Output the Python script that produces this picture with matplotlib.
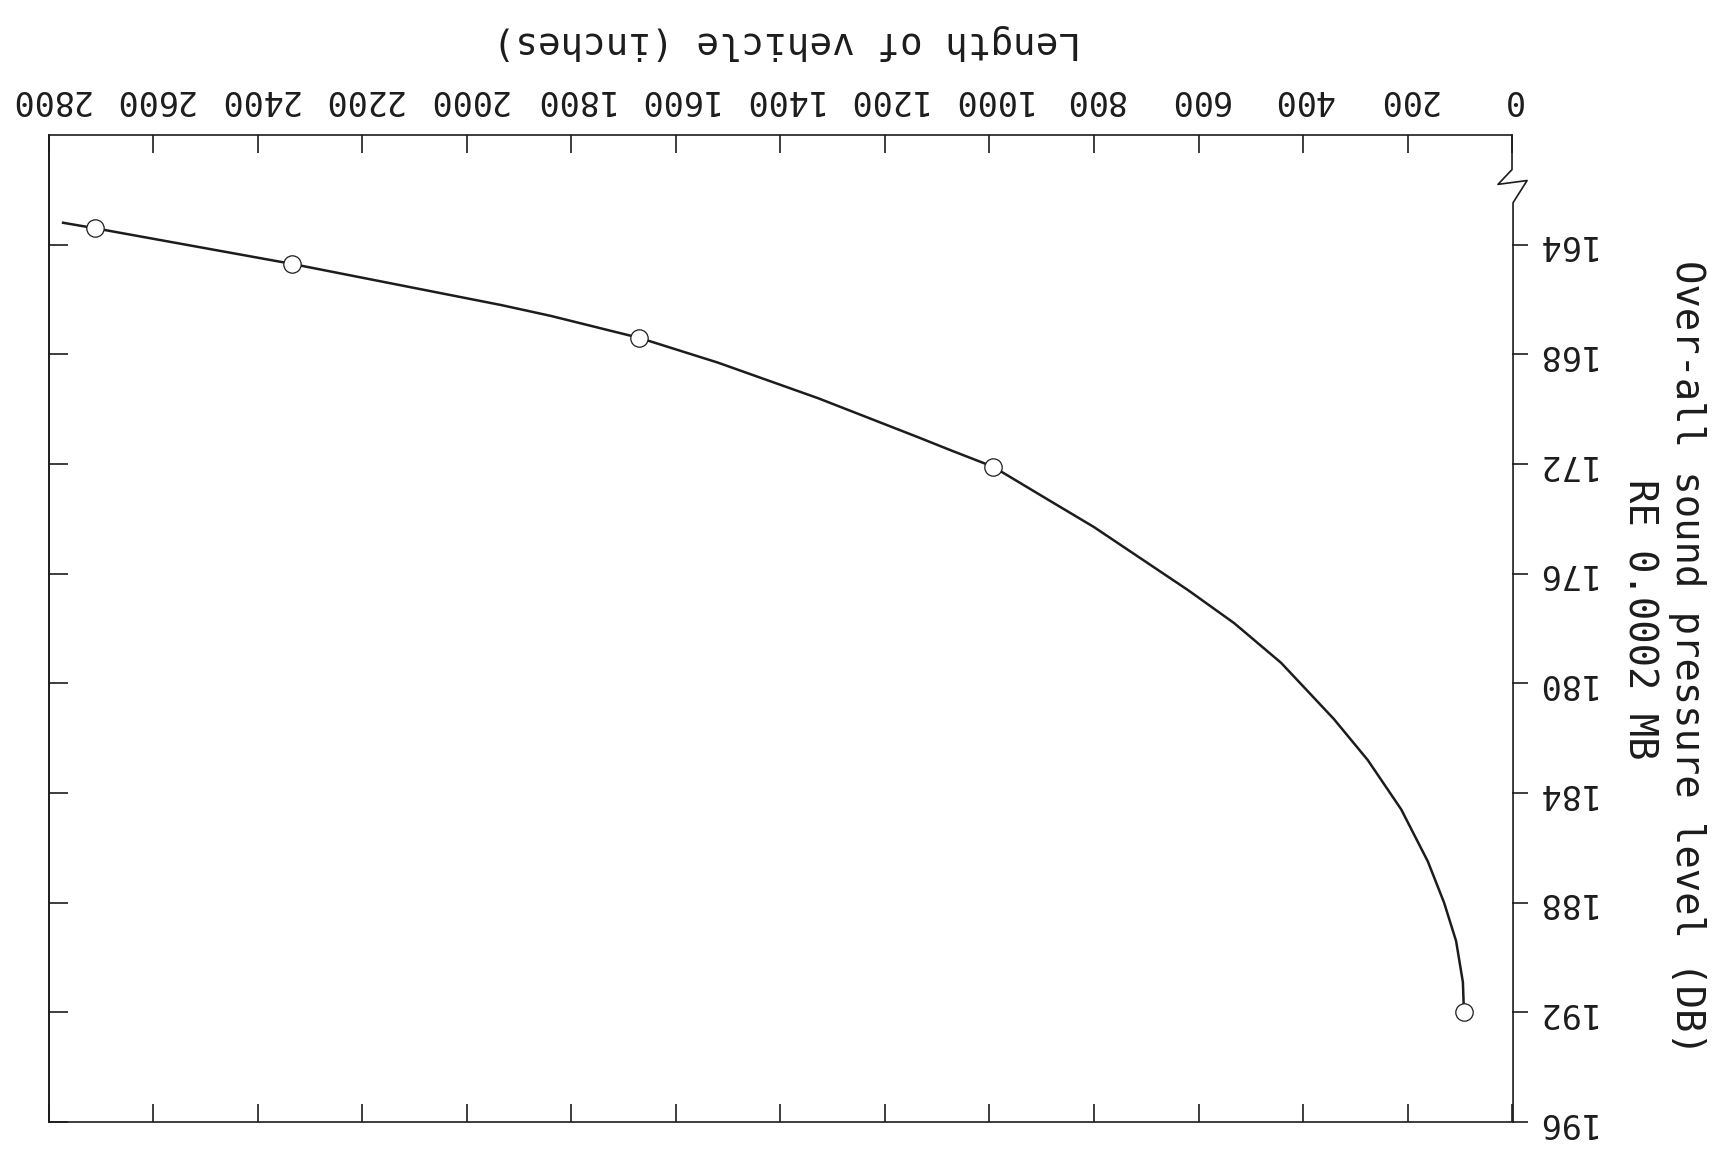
import matplotlib
matplotlib.use('Agg')
import matplotlib.pyplot as plt

plt.rcParams['font.family'] = 'DejaVu Sans Mono'

ink = '#1c1c1c'

# measured points: vehicle length (in) vs over-all SPL (dB)
length_pts = [92, 993, 1670, 2335, 2712]
spl_pts = [192.0, 172.1, 167.4, 164.7, 163.4]

# faired curve through the measurements
curve_len = [92, 94, 107, 130, 161, 212, 276, 341, 442, 532, 620, 710,
             800, 888, 993, 1074, 1137, 1328, 1520, 1670, 1839, 1935, 2335,
             2712, 2773]
curve_spl = [192.0, 190.9, 189.4, 188.0, 186.5, 184.6, 182.8, 181.3, 179.25,
             177.8, 176.6, 175.45, 174.3, 173.3, 172.1, 171.5, 171.02, 169.6,
             168.3, 167.4, 166.6, 166.2, 164.7, 163.4, 163.2]

x_ticks = list(range(0, 2801, 200))
y_ticks = [164, 168, 172, 176, 180, 184, 188, 192, 196]

fig = plt.figure(figsize=(17.18, 11.56), dpi=100)
ax = fig.add_axes([0.0285, 0.0294, 0.8516, 0.8538])

ax.plot(curve_len, curve_spl, color=ink, lw=1.8, solid_joinstyle='round',
        zorder=2)
ax.plot(length_pts, spl_pts, ls='none', marker='o', ms=12.5, mfc='white',
        mec=ink, mew=0.9, zorder=3)

# sheet is printed upside down: 0 on the right, 164 near the top
ax.set_xlim(2800, 0)
ax.set_ylim(196, 160)

ax.xaxis.tick_top()
ax.set_xticks(x_ticks)
ax.set_xticklabels([str(v) for v in x_ticks])
ax.tick_params(axis='x', which='major', top=True, bottom=True, direction='in',
               length=13, width=1.2, color=ink, pad=14, labelsize=24,
               labelcolor=ink, labeltop=True, labelbottom=False)

ax.yaxis.tick_right()
ax.set_yticks(y_ticks)
ax.set_yticklabels([str(v) for v in y_ticks])
ax.tick_params(axis='y', which='major', direction='out', length=11.5,
               width=1.2, color=ink, pad=4, labelsize=24, labelcolor=ink)

for lbl in ax.get_xticklabels():
    lbl.set_rotation(180)
    lbl.set_va('bottom')
    lbl.set_ha('center')
for lbl in ax.get_yticklabels():
    lbl.set_rotation(180)
    lbl.set_va('center')
    lbl.set_ha('left')

# inward ticks along the left edge
left = ax.secondary_yaxis('left')
left.set_yticks(y_ticks)
left.tick_params(direction='in', length=14, width=1.2, color=ink,
                 labelleft=False)
left.spines['left'].set_linewidth(1.2)
left.spines['left'].set_color(ink)

for side in ['top', 'bottom', 'left']:
    ax.spines[side].set_linewidth(1.2)
    ax.spines[side].set_color(ink)

# right edge with the axis-break zigzag
ax.spines['right'].set_visible(False)
ax.plot([1.0, 1.0, 0.9904, 1.0103, 1.0007, 1.0007],
        [160, 161.26, 161.8, 161.66, 162.47, 196],
        transform=ax.get_yaxis_transform(), color=ink, lw=1.2,
        clip_on=False, zorder=4)

fig.text(787 / 1718, 1 - 42 / 1156, 'Length of vehicle (inches)',
         rotation=180, ha='center', va='center', fontsize=27, color=ink)
fig.text(1687 / 1718, 1 - 657 / 1156, 'Over-all sound pressure level (DB)',
         rotation=270, ha='center', va='center', fontsize=28, color=ink)
fig.text(1640 / 1718, 1 - 619 / 1156, 'RE 0.0002 MB',
         rotation=270, ha='center', va='center', fontsize=28, color=ink)

fig.savefig('out.png', dpi=100, facecolor='white')
